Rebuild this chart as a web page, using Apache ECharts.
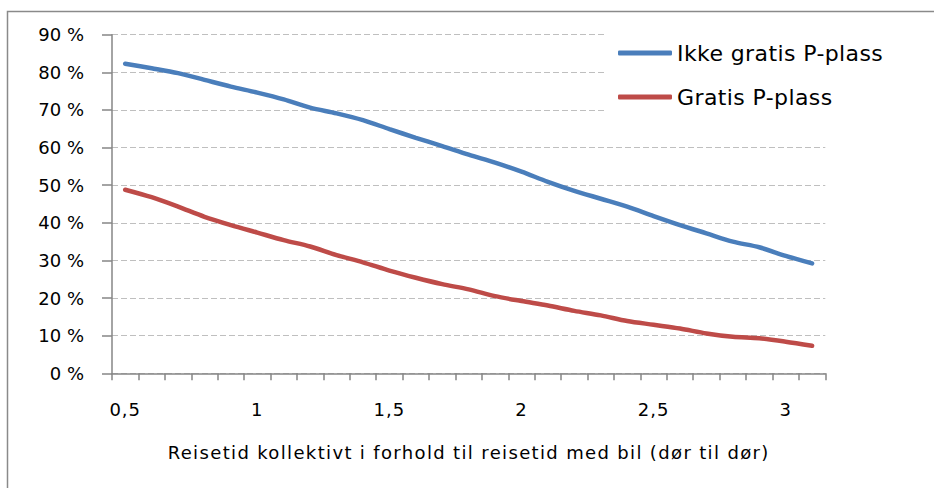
<!DOCTYPE html>
<html>
<head>
<meta charset="utf-8">
<script src="https://cdn.jsdelivr.net/npm/echarts@6/dist/echarts.min.js"></script>
<style>
html,body{margin:0;padding:0;background:#fff;}
#c{width:934px;height:488px;}
#c text[style*="Verdana"]{letter-spacing:1.35px;}
#c text[style*="Tahoma"]{letter-spacing:0.4px;}
#c text[style*="Geneva"]{letter-spacing:1px;}
</style>
</head>
<body>
<div id="c"></div>
<script>
const categories = ["0,5","0,6","0,7","0,8","0,9","1","1,1","1,2","1,3","1,4","1,5","1,6","1,7","1,8","1,9","2","2,1","2,2","2,3","2,4","2,5","2,6","2,7","2,8","2,9","3","3,1"];
const ikkeGratis = [82.3,81.1,79.8,78.0,76.2,74.6,72.8,70.6,69.1,67.3,64.9,62.6,60.4,58.1,56.0,53.6,50.9,48.5,46.4,44.3,41.8,39.4,37.2,35.0,33.5,31.2,29.2];
const gratis = [48.8,46.8,44.3,41.6,39.4,37.4,35.4,33.7,31.4,29.5,27.3,25.4,23.7,22.3,20.5,19.2,18.0,16.6,15.4,13.9,12.9,11.9,10.6,9.7,9.3,8.4,7.3];
const seriesNames = ["Ikke gratis P-plass","Gratis P-plass"];
const xTitle = "Reisetid kollektivt i forhold til reisetid med bil (dør til dør)";

const FONT = "DejaVu Sans";
const chart = echarts.init(document.getElementById('c'), null, {renderer:'svg'});
chart.setOption({
  animation:false,
  backgroundColor:'#fff',
  graphic:[{type:'rect', shape:{x:7.5,y:11.5,width:1000,height:1000}, style:{fill:'none', stroke:'#8a8a8a', lineWidth:1.5}, z:-1}],
  grid:{left:112, right:108.7, top:34.7, bottom:114.7, containLabel:false},
  legend:{
    orient:'vertical', left:606, top:30,
    padding:[11,10,15,12], itemGap:20,
    backgroundColor:'#fff',
    itemWidth:54, itemHeight:5, icon:'roundRect',
    textStyle:{fontFamily:FONT + ", Tahoma", fontSize:22, color:'#000', lineHeight:24},
    data:seriesNames
  },
  xAxis:{
    type:'category', data:categories, boundaryGap:true,
    name:xTitle, nameLocation:'middle', nameGap:70,
    nameTextStyle:{fontFamily:FONT + ", Verdana", fontSize:18, color:'#000'},
    axisLine:{lineStyle:{color:'#868686', width:1.5}},
    axisTick:{show:true, interval:0, alignWithLabel:false, length:7, lineStyle:{color:'#868686', width:1.5}},
    axisLabel:{interval:4, margin:27, fontFamily:FONT + ", Geneva", fontSize:18, color:'#000'},
    splitLine:{show:false}
  },
  yAxis:{
    type:'value', min:0, max:90, interval:10,
    axisLine:{show:true, lineStyle:{color:'#868686', width:1.5}},
    axisTick:{show:true, length:10, lineStyle:{color:'#868686', width:1.5}},
    axisLabel:{formatter:'{value} %', margin:28, fontFamily:FONT, fontSize:18, color:'#000'},
    splitLine:{show:true, lineStyle:{color:'#bfbfbf', width:1, type:[6,3]}}
  },
  series:[
    {name:seriesNames[0], type:'line', data:ikkeGratis, showSymbol:false, smooth:0.3,
     itemStyle:{color:'#4A7EBB'}, lineStyle:{color:'#4A7EBB', width:4.5, cap:'round'}},
    {name:seriesNames[1], type:'line', data:gratis, showSymbol:false, smooth:0.3,
     itemStyle:{color:'#BE4B48'}, lineStyle:{color:'#BE4B48', width:4.5, cap:'round'}}
  ]
});
</script>
</body>
</html>
